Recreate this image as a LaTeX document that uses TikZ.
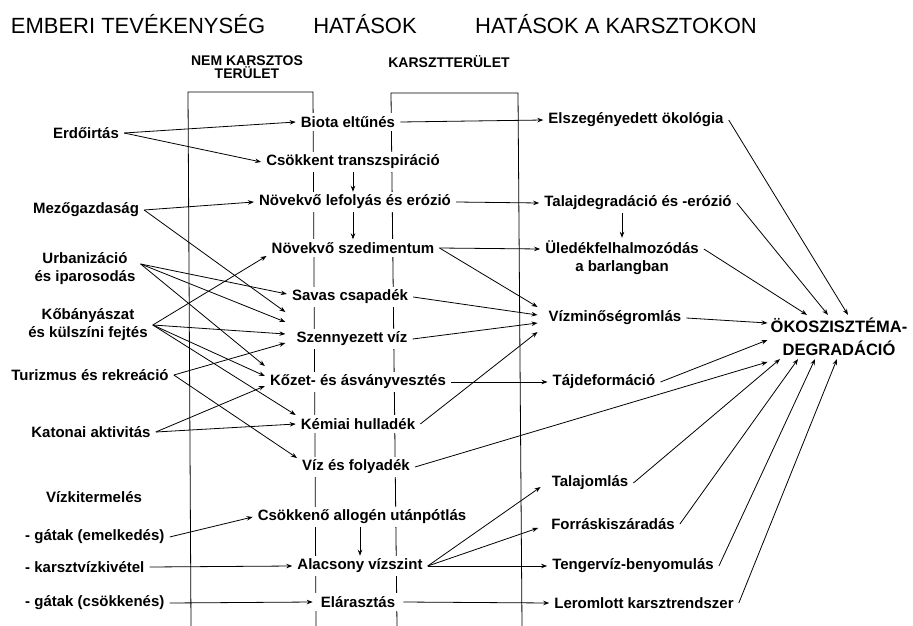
\documentclass[tikz,border=0pt]{standalone}
\usepackage{fontspec}
\setmainfont{Liberation Sans}
\usepackage{tikz}
\usetikzlibrary{arrows.meta}
\tikzset{
lbl/.style={font=\bfseries\fontsize{15}{18}\selectfont,fill=white,inner xsep=5pt,inner ysep=3pt,align=center},
ttl/.style={font=\fontsize{22}{26}\selectfont},
hdr/.style={font=\bfseries\fontsize{14}{13.5}\selectfont,align=center},
big/.style={font=\bfseries\fontsize{16.5}{23}\selectfont,inner sep=3pt,align=center},
arr/.style={->,line width=0.8pt}
}

\begin{document}
\begin{tikzpicture}[x=1pt,y=-1pt,>={Stealth[length=6pt,width=4.5pt]}]
\useasboundingbox(0,0) rectangle (913,626);
\draw[line width=0.8pt](191,626)--(188,92)--(313,92)--(316,626);
\draw[line width=0.8pt](397,626)--(391,93)--(518,93)--(522,626);
\node[ttl](tem) at (138,24){EMBERI TEVÉKENYSÉG};
\node[ttl](that) at (365,24){HATÁSOK};
\node[ttl](tkarszt) at (616,24){HATÁSOK A KARSZTOKON};
\node[hdr](hnem) at (247,67){NEM KARSZTOS\\TERÜLET};
\node[hdr](hkarszt) at (449,62){KARSZTTERÜLET};
\node[lbl](erdo) at (86,133){Erdőirtás};
\node[lbl](mezo) at (86,210){Mezőgazdaság};
\node[lbl](urb) at (85,269){Urbanizáció\\és iparosodás};
\node[lbl](kobany) at (88,325){Kőbányászat\\és külszíni fejtés};
\node[lbl](turiz) at (90,375){Turizmus és rekreáció};
\node[lbl](katonai) at (91,432){Katonai aktivitás};
\node[lbl](vizkit) at (94,497){Vízkitermelés};
\node[lbl,anchor=west](gatem) at (20,537){- gátak (emelkedés)};
\node[lbl,anchor=west](karsztviz) at (20,567){- karsztvízkivétel};
\node[lbl,anchor=west](gatcs) at (20,603){- gátak (csökkenés)};
\node[lbl](biota) at (348,122){Biota eltűnés};
\node[lbl](transz) at (353,162){Csökkent transzspiráció};
\node[lbl](lefoly) at (355,202){Növekvő lefolyás és erózió};
\node[lbl](szedim) at (353,248){Növekvő szedimentum};
\node[lbl](savas) at (350,297){Savas csapadék};
\node[lbl](szenny) at (352,339){Szennyezett víz};
\node[lbl](kozet) at (358,382){Kőzet- és ásványvesztés};
\node[lbl](kemiai) at (358,424){Kémiai hulladék};
\node[lbl](vizfoly) at (356,467){Víz és folyadék};
\node[lbl](allogen) at (362,517){Csökkenő allogén utánpótlás};
\node[lbl](alacsony) at (360,566){Alacsony vízszint};
\node[lbl,inner xsep=8pt](elaraszt) at (358,602){Elárasztás};
\node[lbl](elszeg) at (636,120){Elszegényedett ökológia};
\node[lbl](taldeg) at (638,203){Talajdegradáció és -erózió};
\node[lbl](uledek) at (622,258){Üledékfelhalmozódás\\a barlangban};
\node[lbl](vizmin) at (615,318){Vízminőségromlás};
\node[lbl](tajdef) at (604,382){Tájdeformáció};
\node[lbl](talajoml) at (590,483){Talajomlás};
\node[lbl](forras) at (613,524){Forráskiszáradás};
\node[lbl](tenger) at (633,566){Tengervíz-benyomulás};
\node[lbl](leromlott) at (644,603){Leromlott karsztrendszer};
\node[big](okoszi) at (839,337){ÖKOSZISZTÉMA-\\DEGRADÁCIÓ};
\draw[arr](erdo.east)--(biota.west);
\draw[arr](erdo.east)--(transz.west);
\draw[arr](mezo.east)--(lefoly.west);
\draw[arr](mezo.east)--([xshift=-6pt,yshift=27pt]szenny.west);
\draw[arr]([yshift=5pt]urb.east)--([yshift=3pt]savas.west);
\draw[arr]([yshift=5pt]urb.east)--([xshift=-6pt,yshift=17pt]szenny.west);
\draw[arr]([yshift=5pt]urb.east)--([yshift=16pt]kozet.west);
\draw[arr](kobany.east)--([yshift=-8pt]szedim.west);
\draw[arr](kobany.east)--([xshift=-6pt,yshift=5pt]szenny.west);
\draw[arr](kobany.east)--([yshift=6pt]kozet.west);
\draw[arr](kobany.east)--([yshift=9pt]kemiai.west);
\draw[arr](turiz.east)--([xshift=-6pt,yshift=-4pt]szenny.west);
\draw[arr](turiz.east)--([yshift=9pt]vizfoly.west);
\draw[arr](katonai.east)--([yshift=-4pt]kozet.west);
\draw[arr](katonai.east)--(kemiai.west);
\draw[arr](gatem.east)--(allogen.west);
\draw[arr](karsztviz.east)--(alacsony.west);
\draw[arr](gatcs.east)--(elaraszt.west);
\draw[arr](transz.south)--(transz.south|-lefoly.north);
\draw[arr](transz.south|-lefoly.south)--(transz.south|-szedim.north);
\draw[arr](alacsony.north|-allogen.south)--(alacsony.north);
\draw[arr](biota.east)--(elszeg.west);
\draw[arr](lefoly.east)--(taldeg.west);
\draw[arr](uledek.north|-taldeg.south)--(uledek.north);
\draw[arr](szedim.east)--([yshift=9pt]uledek.west);
\draw[arr](szedim.east)--([xshift=-6pt,yshift=11pt]vizmin.west);
\draw[arr](savas.east)--([xshift=-6pt,yshift=3pt]vizmin.west);
\draw[arr](szenny.east)--([xshift=-6pt,yshift=-5pt]vizmin.west);
\draw[arr](kemiai.east)--([xshift=-6pt,yshift=-14pt]vizmin.west);
\draw[arr](kozet.east)--(tajdef.west);
\draw[arr](alacsony.east)--([xshift=-6pt,yshift=-4pt]talajoml.west);
\draw[arr](alacsony.east)--([xshift=-8pt,yshift=-4pt]forras.west);
\draw[arr](alacsony.east)--(tenger.west);
\draw[arr](elaraszt.east)--(leromlott.west);
\draw[arr](elszeg.east)--([xshift=9pt]okoszi.north);
\draw[arr](taldeg.east)--([xshift=-11pt]okoszi.north);
\draw[arr]([yshift=9pt]uledek.east)--([xshift=-32pt]okoszi.north);
\draw[arr](vizmin.east)--([yshift=14pt]okoszi.west);
\draw[arr](tajdef.east)--([yshift=-3pt]okoszi.west);
\draw[arr](vizfoly.east)--([yshift=-25pt]okoszi.west);
\draw[arr](talajoml.east)--([xshift=-59pt]okoszi.south);
\draw[arr](forras.east)--([xshift=-41pt]okoszi.south);
\draw[arr](tenger.east)--([xshift=-24pt]okoszi.south);
\draw[arr](leromlott.east)--([xshift=-2pt]okoszi.south);
\end{tikzpicture}
\end{document}
